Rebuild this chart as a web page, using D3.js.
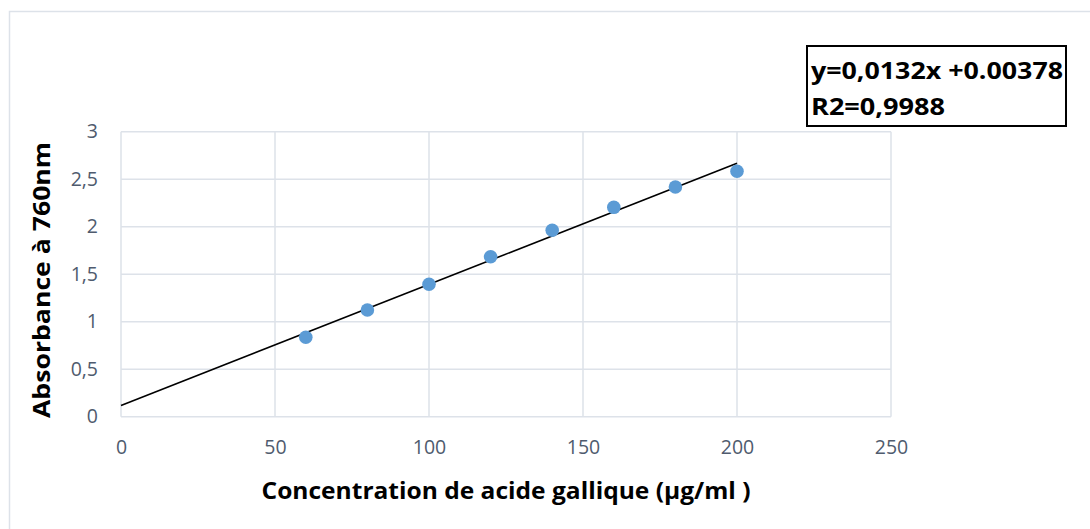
<!DOCTYPE html>
<html><head><meta charset="utf-8">
<script src="https://cdn.jsdelivr.net/npm/d3@7"></script>
<style>
html,body{margin:0;padding:0;background:#fff;}
svg{display:block;font-family:"Open Sans","Noto Sans",sans-serif;}
</style></head>
<body><svg id="chart" width="1090" height="529"></svg>
<script>
const concentrations = [60, 80, 100, 120, 140, 160, 180, 200];
const absorbances = [0.836, 1.123, 1.394, 1.684, 1.962, 2.204, 2.418, 2.583];
const xTicks = [0, 50, 100, 150, 200, 250];
const yTicks = [0, 0.5, 1, 1.5, 2, 2.5, 3];
const xTitle = "Concentration de acide gallique (µg/ml )";
const yTitle = "Absorbance à 760nm";
const equationLines = ["y=0,0132x +0.00378", "R2=0,9988"];

const svg = d3.select("#chart");
const fmt = v => String(v).replace(".", ",");

// outer chart border
svg.append("rect").attr("x", 9.5).attr("y", 11.5).attr("width", 1100).attr("height", 540)
  .attr("fill", "none").attr("stroke", "#dde2e9").attr("stroke-width", 1.5);

const x = d3.scaleLinear().domain([0, 250]).range([121, 891]);
const y = d3.scaleLinear().domain([0, 3]).range([416.7, 131.7]);

// gridlines
svg.append("g").selectAll("line").data(yTicks).join("line")
  .attr("x1", x(0)).attr("x2", x(250)).attr("y1", d => y(d)).attr("y2", d => y(d))
  .attr("stroke", "#dde2e9").attr("stroke-width", 1.5);
svg.append("g").selectAll("line").data(xTicks).join("line")
  .attr("y1", y(0)).attr("y2", y(3)).attr("x1", d => x(d)).attr("x2", d => x(d))
  .attr("stroke", "#dde2e9").attr("stroke-width", 1.5);

// axes tick labels via d3 axes
const xAxis = svg.append("g").attr("transform", `translate(0,${y(0)})`)
  .call(d3.axisBottom(x).tickValues(xTicks).tickSize(0).tickPadding(23).tickFormat(fmt));
xAxis.select(".domain").remove();
xAxis.selectAll("text").attr("font-size", 19.5).attr("fill", "#4f5b6e")
  .attr("font-family", "'Open Sans','Noto Sans',sans-serif");

const yAxis = svg.append("g").attr("transform", `translate(${x(0)},0)`)
  .call(d3.axisLeft(y).tickValues(yTicks).tickSize(0).tickPadding(23).tickFormat(fmt));
yAxis.select(".domain").remove();
yAxis.selectAll("text").attr("font-size", 19.5).attr("fill", "#4f5b6e")
  .attr("font-family", "'Open Sans','Noto Sans',sans-serif");

// linear regression trendline from data
const mx = d3.mean(concentrations), my = d3.mean(absorbances);
let sxy = 0, sxx = 0;
concentrations.forEach((c, i) => { sxy += (c - mx) * (absorbances[i] - my); sxx += (c - mx) ** 2; });
const slope = sxy / sxx, intercept = my - slope * mx;
const xMin = 0, xMax = d3.max(concentrations);
svg.append("line")
  .attr("x1", x(xMin)).attr("y1", y(intercept + slope * xMin))
  .attr("x2", x(xMax)).attr("y2", y(intercept + slope * xMax))
  .attr("stroke", "#000").attr("stroke-width", 1.6);

// points
svg.append("g").selectAll("circle").data(concentrations).join("circle")
  .attr("cx", d => x(d)).attr("cy", (d, i) => y(absorbances[i])).attr("r", 6.8)
  .attr("fill", "#5b9bd5");

// axis titles
svg.append("text").attr("x", 506).attr("y", 499).attr("text-anchor", "middle")
  .attr("font-size", 24).attr("font-weight", "bold").attr("fill", "#000")
  .attr("textLength", 489).attr("lengthAdjust", "spacingAndGlyphs").text(xTitle);
svg.append("text").attr("transform", "translate(50,280) rotate(-90)").attr("text-anchor", "middle")
  .attr("font-size", 24).attr("font-weight", "bold").attr("fill", "#000")
  .attr("textLength", 276).attr("lengthAdjust", "spacingAndGlyphs").text(yTitle);

// equation box
svg.append("rect").attr("x", 807).attr("y", 46).attr("width", 259).attr("height", 80)
  .attr("fill", "#fff").attr("stroke", "#000").attr("stroke-width", 2);
const eqWidths = [252, 134];
svg.append("g").selectAll("text").data(equationLines).join("text")
  .attr("x", 811).attr("y", (d, i) => 79 + i * 36)
  .attr("font-size", 24).attr("font-weight", "bold").attr("fill", "#000")
  .attr("textLength", (d, i) => eqWidths[i]).attr("lengthAdjust", "spacingAndGlyphs")
  .text(d => d);
</script></body></html>
